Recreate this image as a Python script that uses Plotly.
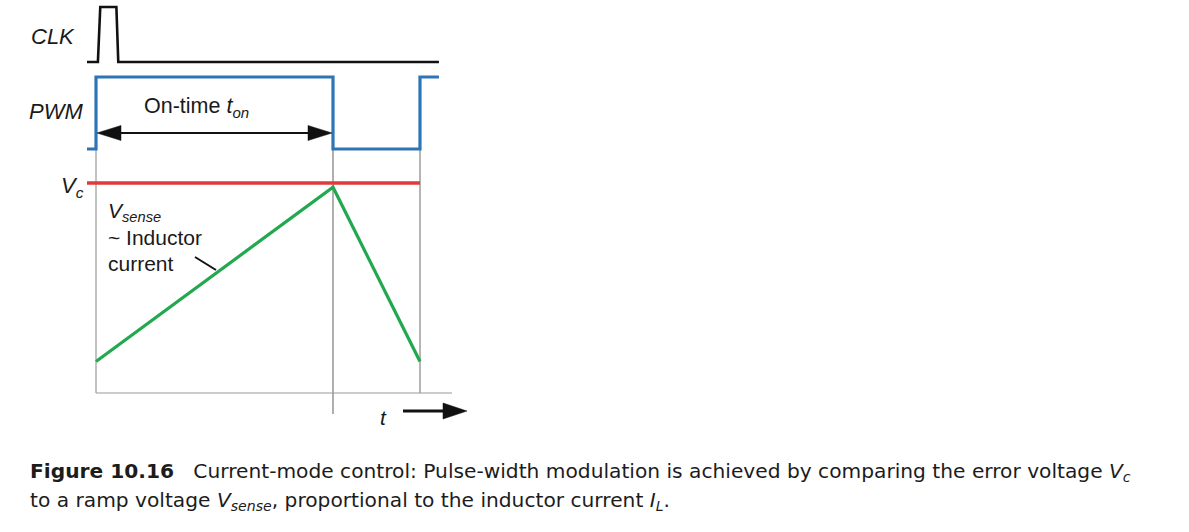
import plotly.graph_objects as go

W, H = 1189, 532

# ---------------- data (time in units of on-time) ----------------
T_START = -0.038
T_ON = 1.0
T_PERIOD = 1.367
T_END = 1.447

clk_t = [T_START, 0.008, 0.018, 0.086, 0.094, T_END]
clk_v = [0, 0, 1, 1, 0, 0]

pwm_t = [T_START, 0.0, 0.0, T_ON, T_ON, T_PERIOD, T_PERIOD, T_END]
pwm_v = [0, 0, 1, 1, 0, 0, 1, 1]

vc_t = [T_START, T_PERIOD]
vc_v = [1.0, 1.0]

vsense_t = [0.0, T_ON, T_PERIOD]
vsense_v = [0.15, 0.98, 0.15]

# ---------------- helpers ----------------
def px(x):
    return x / W

def py(y):
    return 1 - y / H

PX_PER_T = 237.0
X0 = 96.0
xr = [-X0 / PX_PER_T, (W - X0) / PX_PER_T]

BLACK = "#111111"
BLUE = "#2e75b6"
RED = "#e03b3b"
GREEN = "#22a94f"
GRAY = "#9a9a9a"
TXT = "#1a1a1a"

fig = go.Figure()
fig.add_trace(go.Scatter(x=clk_t, y=clk_v, mode="lines", yaxis="y",
                         line=dict(color=BLACK, width=2.6), hoverinfo="skip"))
fig.add_trace(go.Scatter(x=pwm_t, y=pwm_v, mode="lines", yaxis="y2",
                         line=dict(color=BLUE, width=3.2), hoverinfo="skip"))
fig.add_trace(go.Scatter(x=vc_t, y=vc_v, mode="lines", yaxis="y3",
                         line=dict(color=RED, width=3.4), hoverinfo="skip"))
fig.add_trace(go.Scatter(x=vsense_t, y=vsense_v, mode="lines", yaxis="y3",
                         line=dict(color=GREEN, width=3.2), hoverinfo="skip"))

def dom(v0_px, v1_px, r0, r1):
    s = v0_px - v1_px
    bot = v0_px - r0 * s
    top = v0_px - r1 * s
    return [py(bot), py(top)]

ax_common = dict(visible=False, fixedrange=True)
fig.update_layout(
    width=W, height=H,
    margin=dict(l=0, r=0, t=0, b=0),
    paper_bgcolor="white", plot_bgcolor="rgba(0,0,0,0)",
    showlegend=False,
    xaxis=dict(range=xr, domain=[0, 1], **ax_common),
    yaxis=dict(range=[-0.2, 1.1], domain=dom(62, 7, -0.2, 1.1), **ax_common),
    yaxis2=dict(range=[-0.15, 1.15], domain=dom(149, 77, -0.15, 1.15), **ax_common),
    yaxis3=dict(range=[-0.1, 1.1], domain=dom(393, 183, -0.1, 1.1), **ax_common),
)

shapes = []
shapes.append(dict(type="line", xref="x", yref="paper", x0=0.0, x1=0.0,
                   y0=py(150), y1=py(393), line=dict(color=GRAY, width=1.2), layer="below"))
shapes.append(dict(type="line", xref="x", yref="paper", x0=T_ON, x1=T_ON,
                   y0=py(150), y1=py(414), line=dict(color="#7a7a7a", width=1.2), layer="below"))
shapes.append(dict(type="line", xref="x", yref="paper", x0=T_PERIOD, x1=T_PERIOD,
                   y0=py(150), y1=py(393), line=dict(color="#b5b5b5", width=2), layer="below"))
shapes.append(dict(type="line", xref="paper", yref="paper", x0=px(96), x1=px(452),
                   y0=py(393), y1=py(393), line=dict(color=GRAY, width=1.2), layer="below"))
shapes.append(dict(type="line", xref="paper", yref="paper", x0=px(110), x1=px(320),
                   y0=py(133), y1=py(133), line=dict(color=BLACK, width=2)))

def tri(tip, base_x, half):
    tx, ty = tip
    return ("M {:.5f},{:.5f} L {:.5f},{:.5f} L {:.5f},{:.5f} Z".format(
        px(tx), py(ty), px(base_x), py(ty - half), px(base_x), py(ty + half)))

shapes.append(dict(type="path", xref="paper", yref="paper", path=tri((97, 133), 121, 7.5),
                   fillcolor=BLACK, line=dict(color=BLACK, width=0.5)))
shapes.append(dict(type="path", xref="paper", yref="paper", path=tri((332, 133), 308, 7.5),
                   fillcolor=BLACK, line=dict(color=BLACK, width=0.5)))
shapes.append(dict(type="line", xref="paper", yref="paper", x0=px(403), x1=px(447),
                   y0=py(411), y1=py(411), line=dict(color=BLACK, width=3.2)))
shapes.append(dict(type="path", xref="paper", yref="paper", path=tri((467, 411), 443, 8),
                   fillcolor=BLACK, line=dict(color=BLACK, width=0.5)))
shapes.append(dict(type="line", xref="paper", yref="paper", x0=px(195), x1=px(216),
                   y0=py(257), y1=py(270), line=dict(color=BLACK, width=2)))
fig.update_layout(shapes=shapes)

LBL = "Liberation Sans, Arial, sans-serif"

def ann(text, x, y, size=22, xanchor="center", yanchor="middle", font=LBL, color=TXT, align="left"):
    fig.add_annotation(text=text, x=px(x), y=py(y), xref="paper", yref="paper",
                       showarrow=False, xanchor=xanchor, yanchor=yanchor, align=align,
                       font=dict(family=font, size=size, color=color))

ann("<i>CLK</i>", 53, 36)
ann("<i>PWM</i>", 56, 111)
ann("On-time <i>t<sub>on</sub></i>", 142, 108, size=21.5, xanchor="left")
ann("<i>V<sub>c</sub></i>", 86, 187, xanchor="right")
ann("<i>V<sub>sense</sub></i>", 106, 212, size=21, xanchor="left")
ann("~ Inductor", 106, 237, size=21, xanchor="left")
ann("current", 106, 263, size=21, xanchor="left")
ann("<i>t</i>", 383, 417, size=21)

CAP = "DejaVu Sans, Open Sans, sans-serif"
cap1 = ("<b>Figure 10.16</b>&nbsp;&nbsp;&nbsp;Current-mode control: Pulse-width modulation "
        "is achieved by comparing the error voltage <i>V<sub>c</sub></i>")
cap2 = ("to a ramp voltage <i>V<sub>sense</sub></i>, proportional to the inductor current "
        "<i>I<sub>L</sub></i>.")
ann(cap1, 28, 472, size=20.2, xanchor="left", font=CAP, color="#1c1c1c")
ann(cap2, 28, 501, size=20.2, xanchor="left", font=CAP, color="#1c1c1c")

fig.write_html("out.html", config={"displayModeBar": False, "staticPlot": True},
               post_script="document.body.style.margin='0';document.body.style.padding='0';")
